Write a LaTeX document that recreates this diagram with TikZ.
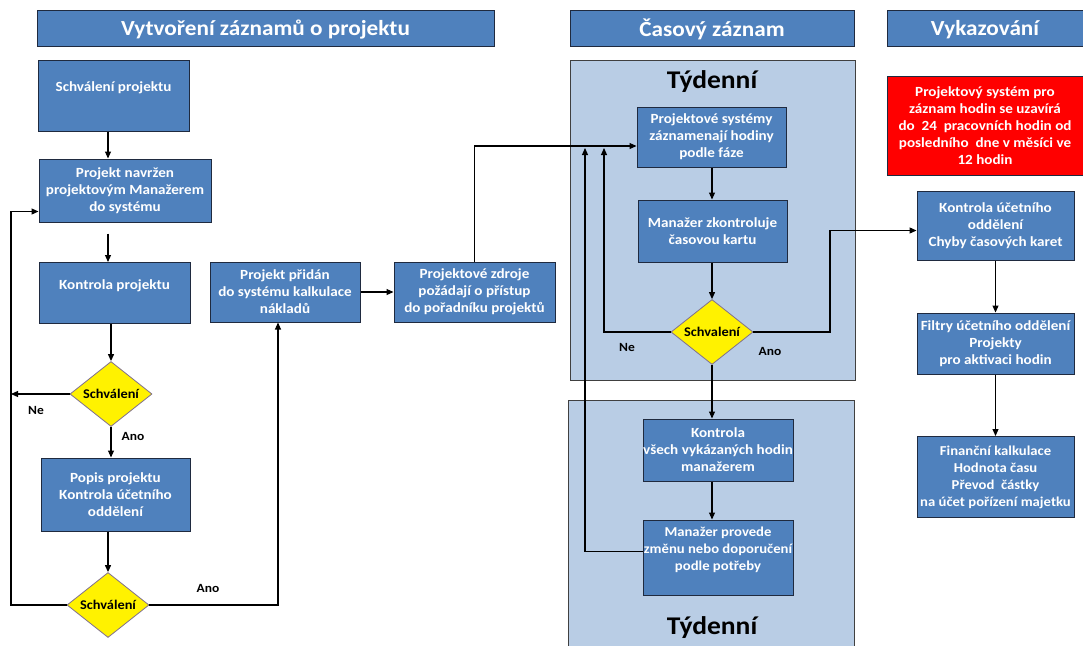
\documentclass[tikz,border=0pt]{standalone}
\usepackage{fontspec}
\setmainfont{Carlito}[FakeStretch=1.08]
\usetikzlibrary{arrows.meta,shapes.geometric,calc}
\definecolor{boxblue}{HTML}{4F81BD}
\definecolor{panelblue}{HTML}{B9CDE5}
\definecolor{boxline}{HTML}{1F2A3F}
\definecolor{diaedge}{HTML}{7F6F8F}
\definecolor{panelline}{HTML}{404040}
\begin{document}
\begin{tikzpicture}[x=1pt,y=-1pt,
  box/.style={draw=boxline, line width=1pt, fill=boxblue, text=white, align=center, inner sep=0pt,
    font=\fontsize{14}{17}\selectfont\bfseries},
  redbox/.style={box, fill=red},
  hdr/.style={draw=boxline, line width=1pt, fill=boxblue, text=white, inner sep=0pt, text depth=0pt,
    font=\fontsize{21.5}{26}\selectfont\bfseries},
  panel/.style={draw=panelline, line width=1pt, fill=panelblue, inner sep=0pt},
  ptitle/.style={font=\fontsize{25.5}{30}\selectfont\bfseries, text=black},
  dia/.style={diamond, draw=diaedge, fill=yellow, line width=0.8pt, inner sep=0pt, aspect=1.26,
    minimum width=82, minimum height=65, font=\fontsize{13.3}{16}\selectfont\bfseries, text=black},
  lbl/.style={font=\fontsize{12.5}{15}\selectfont\bfseries, text=black},
  arr/.style={-{Triangle[length=7pt,width=6pt]}, line width=1.1pt}
]
\useasboundingbox[fill=white] (0,0) rectangle (1083,645);

% panels
\node[panel, minimum width=285, minimum height=320] (p1) at (712.5,220) {};
\node[panel, minimum width=286, minimum height=250] (p2) at (711,525) {};
\node[ptitle] (t1) at (712,82) {Týdenní};
\node[ptitle] (t2) at (712,628) {Týdenní};

% headers
\node[hdr, minimum width=457, minimum height=36] (h1) at (265.5,28) {Vytvoření záznamů o projektu};
\node[hdr, minimum width=284, minimum height=36] (h2) at (712,28) {Časový záznam};
\node[hdr, minimum width=196, minimum height=36] (h3) at (985,28) {Vykazování};

% left column
\node[box, minimum width=151, minimum height=71] (b1) at (113.5,95.5) {Schválení projektu\\~};
\node[box, minimum width=172, minimum height=63] (b2) at (125,190.5) {Projekt navržen\\projektovým Manažerem\\do systému};
\node[box, minimum width=151, minimum height=61] (b3) at (114.5,293) {Kontrola projektu\\~};
\node[box, minimum width=150, minimum height=60] (b4) at (285,292) {Projekt přidán\\do systému kalkulace\\nákladů};
\node[box, minimum width=149, minimum height=73] (b5) at (115.5,494.5) {Popis projektu\\Kontrola účetního\\oddělení};
\node[box, minimum width=161, minimum height=60] (b6) at (474.5,292) {Projektové zdroje\\požádají o přístup\\do pořadníku projektů};
\node[dia] (d1) at (111,394) {Schválení};
\node[dia] (d2) at (108,605) {Schválení};

% middle
\node[box, minimum width=149, minimum height=60] (b7) at (711.5,137) {Projektové systémy\\záznamenají hodiny\\podle fáze};
\node[box, minimum width=149, minimum height=62] (b8) at (712.5,231) {Manažer zkontroluje\\časovou kartu};
\node[dia] (d3) at (712,332) {Schvalení};
\node[box, minimum width=150, minimum height=62] (b10) at (718,450) {Kontrola\\všech vykázaných hodin\\manažerem};
\node[box, minimum width=150, minimum height=75, font=\fontsize{13.6}{17}\selectfont\bfseries] (b11) at (718,557.5) {Manažer provede\\změnu nebo doporučení\\podle potřeby\\~};

% right column
\node[redbox, minimum width=196, minimum height=99] (r1) at (985,125.5) {Projektový systém pro\\záznam hodin se uzavírá\\do\ \ 24\ \ pracovních hodin od\\posledního\ \ dne v měsíci ve\\12 hodin};
\node[box, minimum width=157, minimum height=69] (b9) at (995.5,225.5) {Kontrola účetního\\oddělení\\Chyby časových karet};
\node[box, minimum width=157, minimum height=61] (b12) at (995.5,343.5) {Filtry účetního oddělení\\Projekty\\pro aktivaci hodin};
\node[box, minimum width=157, minimum height=81, font=\fontsize{13.6}{17}\selectfont\bfseries] (b13) at (995.5,477) {Finanční kalkulace\\Hodnota času\\Převod\ \ částky\\na účet pořízení majetku};

% helper coordinates
\coordinate (lc) at (108,0);
\coordinate (lx) at (11,0);
\coordinate (b2in) at ($(b2.west)+(0,21)$);
\coordinate (b4in) at ($(b4.south)+(-7,0)$);
\coordinate (b7in) at ($(b7.west)+(0,9)$);
\coordinate (nein) at (604,148);
\coordinate (back) at (585,148);
\coordinate (ax) at (830,0);
\coordinate (b9in) at ($(b9.west)+(0,5)$);
\coordinate (b11out) at ($(b11.west)+(0,-6)$);

% connectors left
\draw[arr] (b1.south -| lc) -- (b2.north -| lc);
\draw[arr, shorten <=11pt] (b2.south -| lc) -- (b3.north -| lc);
\draw[arr] (b3.south -| d1.north) -- (d1.north);
\draw[arr] (d1.west) -- (d1.west -| lx);
\draw[arr] (d1.south) -- (d1.south |- b5.north);
\draw[arr] (b5.south -| d2.north) -- (d2.north);
\draw[arr] (d2.west) -| (lx |- b2in) -- (b2in);
\draw[arr] (d2.east) -| (b4in);
\draw[arr] (b4.east) -- (b6.west);
\draw[arr] (b6.north) |- (b7in);

% connectors middle
\draw[arr] (b7.south -| d3.north) -- (b8.north -| d3.north);
\draw[arr] (b8.south -| d3.north) -- (d3.north);
\draw[arr] (d3.west) -| (nein);
\draw[arr] (d3.east) -| (ax |- b9in) -- (b9in);
\draw[arr] (d3.south) -- (d3.south |- b10.north);
\draw[arr] (b10.south -| d3.south) -- (b11.north -| d3.south);
\draw[arr] (b11out) -| (back);

% connectors right
\draw[arr] (b9.south) -- (b12.north);
\draw[arr] (b12.south) -- (b13.north);

% labels
\node[lbl] (ne1) at (36,410) {Ne};
\node[lbl] (ano1) at (133,436) {Ano};
\node[lbl] (ano2) at (208,588) {Ano};
\node[lbl] (ne2) at (627,347) {Ne};
\node[lbl] (ano3) at (770,351) {Ano};
\end{tikzpicture}
\end{document}
